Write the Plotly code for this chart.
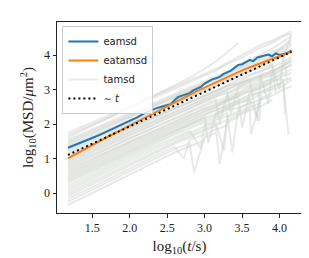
import plotly.graph_objects as go

# ---------------- data ----------------
TAMSD_LAGS = [1.176, 1.4, 1.7, 2.0, 2.3, 2.6, 2.8, 3.0, 3.15, 3.3, 3.45, 3.6, 3.75, 3.9, 4.05, 4.16]
TAMSD = [
    [1.75, 1.96, 2.24, 2.52, 2.80, 3.08, 3.27, 3.45, 3.60, 3.78, 3.95, 4.12, 4.30, 4.42, 4.58, 4.70],
    [1.68, 1.89, 2.18, 2.46, 2.75, 3.03, 3.22, 3.41, 3.55, 3.74, 3.88, 4.05, 4.22, 4.36, 4.55, 4.63],
    [1.62, 1.86, 2.17, 2.48, 2.80, 3.12, 3.35, 3.60, 3.82, 4.08, 4.36],
    [1.55, 1.76, 2.04, 2.32, 2.60, 2.87, 3.06, 3.24, 3.40, 3.52, 3.70, 3.86, 4.02, 4.18, 4.40, 4.55],
    [1.50, 1.71, 1.99, 2.27, 2.55, 2.82, 3.00, 3.20, 3.32, 3.48, 3.62, 3.80, 3.92, 4.10, 4.22, 4.38],
    [1.45, 1.66, 1.95, 2.24, 2.52, 2.80, 2.99, 3.17, 3.33, 3.46, 3.63, 3.75, 3.95, 4.02, 4.20],
    [1.40, 1.62, 1.91, 2.20, 2.49, 2.77, 2.96, 3.14, 3.28, 3.41, 3.58, 3.70, 3.86, 3.98, 4.12, 4.30],
    [1.35, 1.56, 1.84, 2.12, 2.40, 2.68, 2.86, 3.05, 3.18, 3.34, 3.50, 3.60, 3.78, 3.95, 4.28, 4.45],
    [1.30, 1.52, 1.81, 2.10, 2.39, 2.68, 2.86, 3.04, 3.20, 3.30, 3.46, 3.66, 3.70, 3.90, 3.98, 4.20],
    [1.25, 1.47, 1.76, 2.05, 2.33, 2.62, 2.80, 2.98, 3.12, 3.28, 3.40, 3.55, 3.62, 3.75],
    [1.20, 1.42, 1.71, 2.00, 2.30, 2.59, 2.78, 2.97, 3.10, 3.25, 3.38, 3.52, 3.70, 3.82, 4.00, 4.10],
    [1.15, 1.36, 1.64, 1.92, 2.20, 2.48, 2.66, 2.85, 2.98, 3.12, 3.30, 3.44, 3.52, 3.72, 3.92, 4.60],
    [1.10, 1.31, 1.60, 1.89, 2.18, 2.46, 2.65, 2.82, 2.96, 3.10, 3.22, 3.40, 3.55, 3.66, 3.80, 3.95],
    [1.05, 1.27, 1.56, 1.85, 2.14, 2.43, 2.62, 2.80, 2.93, 3.10, 3.18, 3.30, 3.42, 3.52, 3.70, 3.85],
    [1.00, 1.22, 1.51, 1.80, 2.08, 2.36, 2.55, 2.72, 2.86, 3.00, 3.15, 3.28, 3.44, 3.55, 3.72, 3.80],
    [0.95, 1.17, 1.47, 1.76, 2.06, 2.35, 2.54, 2.74, 2.88, 3.02, 3.16, 3.30, 3.40, 3.58],
    [0.90, 1.12, 1.41, 1.70, 1.99, 2.28, 2.46, 2.66, 2.80, 2.90, 3.08, 3.20, 3.36, 3.45, 3.62, 3.70],
    [0.85, 1.07, 1.37, 1.67, 1.97, 2.27, 2.46, 2.65, 2.80, 2.95, 3.08, 3.25, 3.38, 3.50, 3.68, 3.90],
    [0.80, 1.02, 1.31, 1.60, 1.88, 2.16, 2.34, 2.52, 2.66, 2.80, 2.92, 3.06, 3.22, 3.30, 3.50],
    [0.75, 0.98, 1.28, 1.58, 1.88, 2.18, 2.38, 2.58, 2.72, 2.86, 3.02, 3.12, 3.30, 3.40, 3.58, 3.75],
    [0.70, 0.92, 1.21, 1.50, 1.79, 2.08, 2.27, 2.45, 2.55, 2.70, 2.85, 2.96, 3.10, 3.25, 3.30],
    [0.65, 0.88, 1.18, 1.48, 1.77, 2.06, 2.25, 2.44, 2.60, 2.75, 2.88, 3.02, 3.15, 3.32, 3.45, 3.60],
    [0.60, 0.83, 1.13, 1.43, 1.72, 2.01, 2.20, 2.38, 2.50, 2.68, 2.80, 2.90, 3.06, 3.20],
    [0.55, 0.78, 1.08, 1.38, 1.68, 1.98, 2.17, 2.36, 2.50, 2.64, 2.80, 2.95, 3.05, 3.22, 3.40, 3.48],
    [0.50, 0.73, 1.03, 1.33, 1.63, 1.92, 2.10, 2.30, 2.42, 2.55, 2.70, 2.85, 2.92, 3.10, 3.20],
    [0.45, 0.68, 0.98, 1.28, 1.58, 1.88, 2.07, 2.26, 2.40, 2.52, 2.68, 2.78, 2.95, 3.05, 3.25, 3.35],
    [0.40, 0.63, 0.93, 1.23, 1.53, 1.82, 2.00, 2.18, 2.30, 2.45, 2.60, 2.72, 2.85],
    [0.35, 0.58, 0.89, 1.20, 1.50, 1.80, 2.00, 2.20, 2.32, 2.48, 2.62, 2.70, 2.88, 3.00, 3.10, 3.30],
    [0.30, 0.53, 0.84, 1.15, 1.46, 1.76, 1.95, 2.12, 2.25, 2.40, 2.48, 2.62, 2.75, 2.90],
    [0.22, 0.46, 0.77, 1.08, 1.39, 1.70, 1.88, 2.06, 2.20, 2.32, 2.45, 2.60, 2.70, 2.82, 3.00, 3.10],
    [0.15, 0.39, 0.70, 1.01, 1.32, 1.62, 1.80, 1.98, 2.12, 2.25, 2.38, 2.50, 2.62],
    [0.08, 0.32, 0.63, 0.94, 1.25, 1.56, 1.75, 1.94, 2.05, 2.20, 2.30, 2.45],
    [0.00, 0.24, 0.55, 0.86, 1.17, 1.48, 1.68, 1.86, 2.00, 2.12, 2.25, 2.40, 2.52, 2.70],
    [-0.08, 0.16, 0.48, 0.80, 1.12, 1.43, 1.62, 1.80, 1.95, 2.05, 2.20],
    [-0.16, 0.08, 0.40, 0.72, 1.04, 1.35, 1.55, 1.70, 1.85, 1.96],
    [-0.24, 0.00, 0.32, 0.64, 0.96, 1.28, 1.45, 1.62, 1.75],
    [-0.34, -0.10, 0.22, 0.54, 0.86, 1.18, 1.36, 1.52],
]
# (row index, lag, value): sudden drops of single tamsd curves
TAMSD_SPIKES = [
    (35, 2.86, 0.60), (33, 3.20, 0.84), (31, 3.26, 1.23), (29, 3.37, 1.18),
    (28, 3.62, 1.71), (26, 3.73, 2.09), (24, 4.12, 1.70), (20, 4.07, 2.28),
    (9, 3.95, 2.90), (5, 4.10, 3.20), (13, 3.70, 2.10), (17, 3.35, 2.30),
    (22, 3.50, 1.90), (30, 2.95, 1.30), (27, 3.05, 1.45), (15, 3.85, 2.60),
    (11, 4.00, 3.00), (19, 3.20, 2.00), (34, 2.72, 1.00),
]

EAMSD_LAGS = [1.176, 1.25, 1.3, 1.4, 1.5, 1.6, 1.7, 1.8, 1.9, 2.0, 2.1, 2.2, 2.3, 2.35, 2.4,
              2.45, 2.5, 2.55, 2.6, 2.65, 2.7, 2.75, 2.8, 2.85, 2.9, 2.95, 3.0, 3.05, 3.1,
              3.15, 3.2, 3.25, 3.3, 3.35, 3.4, 3.45, 3.5, 3.55, 3.6, 3.65, 3.7, 3.75, 3.8,
              3.85, 3.9, 3.95, 4.0, 4.05, 4.1, 4.16]
EAMSD = [1.32, 1.38, 1.42, 1.51, 1.60, 1.69, 1.79, 1.89, 1.99, 2.10, 2.20, 2.32, 2.42, 2.46, 2.49,
         2.52, 2.55, 2.58, 2.70, 2.79, 2.83, 2.86, 2.90, 2.98, 3.03, 3.08, 3.18, 3.25, 3.30,
         3.33, 3.37, 3.45, 3.49, 3.55, 3.64, 3.72, 3.74, 3.80, 3.86, 3.83, 3.93, 3.96, 3.99,
         4.02, 3.97, 4.05, 4.01, 4.04, 4.06, 4.13]

EATAMSD_LAGS = [1.176, 1.3, 1.5, 1.7, 1.9, 2.1, 2.3, 2.5, 2.7, 2.9, 3.1, 3.3, 3.5, 3.7, 3.9, 4.05, 4.16]
EATAMSD = [1.01, 1.16, 1.39, 1.63, 1.85, 2.07, 2.29, 2.52, 2.75, 2.96, 3.16, 3.37, 3.56, 3.73, 3.89, 4.00, 4.10]

LINEAR_LAGS = [1.176, 4.16]
LINEAR = [1.11, 4.10]

X_TICKS = [1.5, 2.0, 2.5, 3.0, 3.5, 4.0]
Y_TICKS = [0, 1, 2, 3, 4]

# ---------------- figure ----------------
fig = go.Figure()

GRAY = "rgba(200,206,200,0.42)"
for i, row in enumerate(TAMSD):
    pts = list(zip(TAMSD_LAGS[:len(row)], row))
    pts += [(x, y) for (r, x, y) in TAMSD_SPIKES if r == i]
    pts.sort()
    fig.add_trace(go.Scatter(
        x=[p[0] for p in pts], y=[p[1] for p in pts], mode="lines",
        line=dict(color=GRAY, width=2),
        name="tamsd", legendgroup="tamsd", showlegend=(i == 0), legendrank=3,
        hoverinfo="skip"))

fig.add_trace(go.Scatter(x=EAMSD_LAGS, y=EAMSD, mode="lines", name="eamsd",
                         line=dict(color="#1f77b4", width=2), legendrank=1))
fig.add_trace(go.Scatter(x=EATAMSD_LAGS, y=EATAMSD, mode="lines", name="eatamsd",
                         line=dict(color="#ff7f0e", width=2), legendrank=2))
fig.add_trace(go.Scatter(x=LINEAR_LAGS, y=LINEAR, mode="lines", name="∼ <i>t</i>",
                         line=dict(color="black", width=2, dash="2px,3px"), legendrank=4))

SERIF = "Liberation Serif, DejaVu Serif, serif"
axis_common = dict(showline=True, linecolor="#222", linewidth=1, mirror=True,
                   ticks="outside", ticklen=3.5, tickwidth=0.8, tickcolor="#222",
                   showgrid=False, zeroline=False,
                   tickfont=dict(family=SERIF, size=12, color="#222"))

fig.update_layout(
    width=309, height=258,
    margin=dict(l=49, r=15, t=14, b=53),
    paper_bgcolor="white", plot_bgcolor="white",
    showlegend=True,
    legend=dict(x=0.022, y=0.979, xanchor="left", yanchor="top",
                bgcolor="rgba(255,255,255,0.85)", bordercolor="#cccccc", borderwidth=1,
                font=dict(family="DejaVu Sans", size=10, color="#222"),
                itemwidth=30, tracegroupgap=0),
    xaxis=dict(range=[1.03, 4.30], tickvals=X_TICKS,
               ticktext=[f"{v:.1f}" for v in X_TICKS],
               title=dict(text="log<sub>10</sub>(<i>t</i>/s)", standoff=6,
                          font=dict(family=SERIF, size=15, color="#222")),
               **axis_common),
    yaxis=dict(range=[-0.572, 4.962], tickvals=Y_TICKS,
               ticktext=[str(v) for v in Y_TICKS],
               title=dict(text="log<sub>10</sub>(MSD/<i>μ</i>m<sup>2</sup>)", standoff=6,
                          font=dict(family=SERIF, size=15, color="#222")),
               **axis_common),
)

fig.write_html("out.html")
